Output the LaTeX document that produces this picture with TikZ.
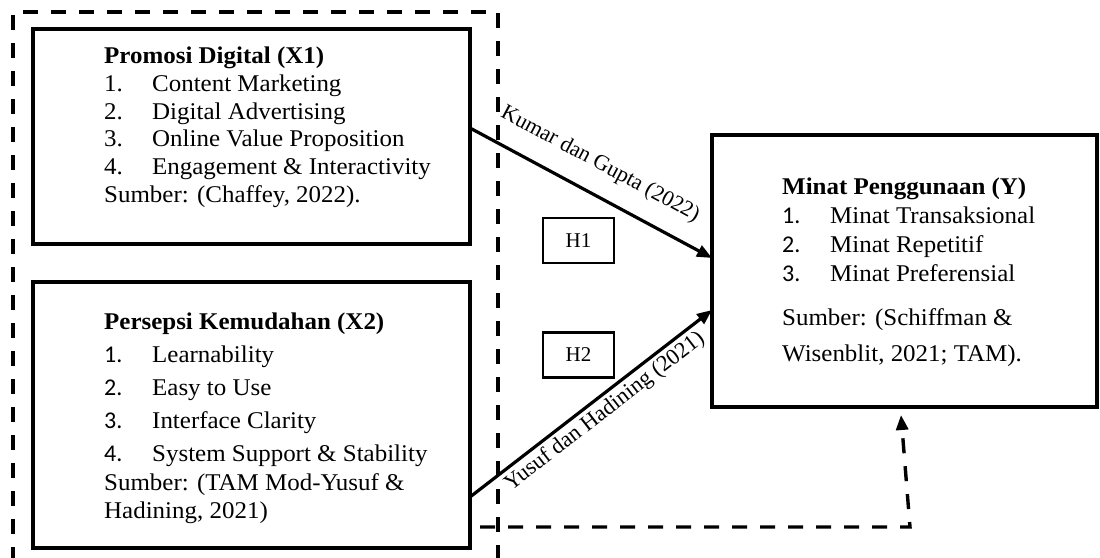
\documentclass[tikz,border=0pt]{standalone}
\usepackage{fontspec}
\setmainfont{Liberation Serif}[FakeStretch=1.04]
\newfontfamily\timesfont{Liberation Serif}
\newfontfamily\calfont{Carlito}
\usetikzlibrary{arrows.meta,positioning}
\tikzset{varbox/.style={draw,line width=3.2pt,anchor=north west,inner sep=0pt,outer sep=0pt}}
\tikzset{vartext/.style={anchor=north west,align=left,inner sep=0pt,font=\fontsize{24}{27.7}\selectfont}}
\tikzset{hyp/.style={draw,line width=2.6pt,minimum width=71pt,minimum height=45pt,inner sep=0pt,font=\timesfont\fontsize{21}{24}\selectfont}}
\tikzset{arrow/.style={draw,line width=3.2pt,-{Triangle[length=15pt,width=12pt]}}}
\tikzset{frame/.style={draw,line width=3.4pt,dash pattern=on 15pt off 13pt}}
\tikzset{ref/.style={font=\timesfont\fontsize{22}{24}\selectfont,sloped,inner sep=4pt}}
\newcommand{\itm}[2]{\makebox[48pt][l]{#1}#2}

\begin{document}
\begin{tikzpicture}[x=1pt,y=-1pt]
    \useasboundingbox (0,0) rectangle (1100,557);

    \node[varbox,minimum width=437pt,minimum height=215pt] (x1) at (33,29) {};
    \node[varbox,minimum width=437pt,minimum height=266pt] (x2) at (33,282) {};
    \node[varbox,minimum width=385pt,minimum height=272pt] (y) at (712,135) {};

    \node[vartext] (x1t) at (104,47) {\textbf{Promosi Digital (X1)}\\
        \itm{1.}{Content Marketing}\\
        \itm{2.}{Digital Advertising}\\
        \itm{3.}{Online Value Proposition}\\
        \itm{4.}{Engagement \& Interactivity}\\
        Sumber: (Chaffey, 2022).};
    \node[vartext,font=\fontsize{24}{28.5}\selectfont] (x2t) at (104,313) {\textbf{Persepsi Kemudahan (X2)}\\[4.5pt]
        \itm{\calfont 1.}{Learnability}\\[4.5pt]
        \itm{\calfont 2.}{Easy to Use}\\[4.5pt]
        \itm{\calfont 3.}{Interface Clarity}\\[4.5pt]
        \itm{\calfont 4.}{System Support \& Stability}\\
        Sumber: (TAM Mod-Yusuf \&\\
        Hadining, 2021)};
    \node[vartext,font=\fontsize{24}{29}\selectfont] (yt) at (782,178) {\textbf{Minat Penggunaan (Y)}\\
        \itm{\calfont 1.}{Minat Transaksional}\\
        \itm{\calfont 2.}{Minat Repetitif}\\
        \itm{\calfont 3.}{Minat Preferensial}\\[15pt]
        Sumber: (Schiffman \&\\[7pt]
        Wisenblit, 2021; TAM).};

    \node[hyp] (h1) at (578.5,240.5) {H1};
    \node[hyp] (h2) at (578.5,355) {H2};

    \draw[frame] (13,590) -- (13,12) -- (498,12) -- (498,590);
    \coordinate (fb) at (480,527);
    \coordinate (fbc) at (910,527);

    \path[arrow] ([yshift=8.5pt]x1.east) -- node[ref,above,pos=0.48,inner sep=18pt] {Kumar dan Gupta (2022)} ([yshift=13pt]y.west);
    \path[arrow] ([yshift=51pt]x2.south east) -- node[ref,below,pos=0.52,inner sep=3pt,font=\timesfont\fontsize{22.5}{24}\selectfont] {Yusuf dan Hadining (2021)} ([yshift=-39pt]y.west);
    \path[frame,-{Triangle[length=15pt,width=12pt]}] (fb) -- (fbc) -- ([xshift=-3.5pt,yshift=-8pt]y.south);
\end{tikzpicture}
\end{document}
